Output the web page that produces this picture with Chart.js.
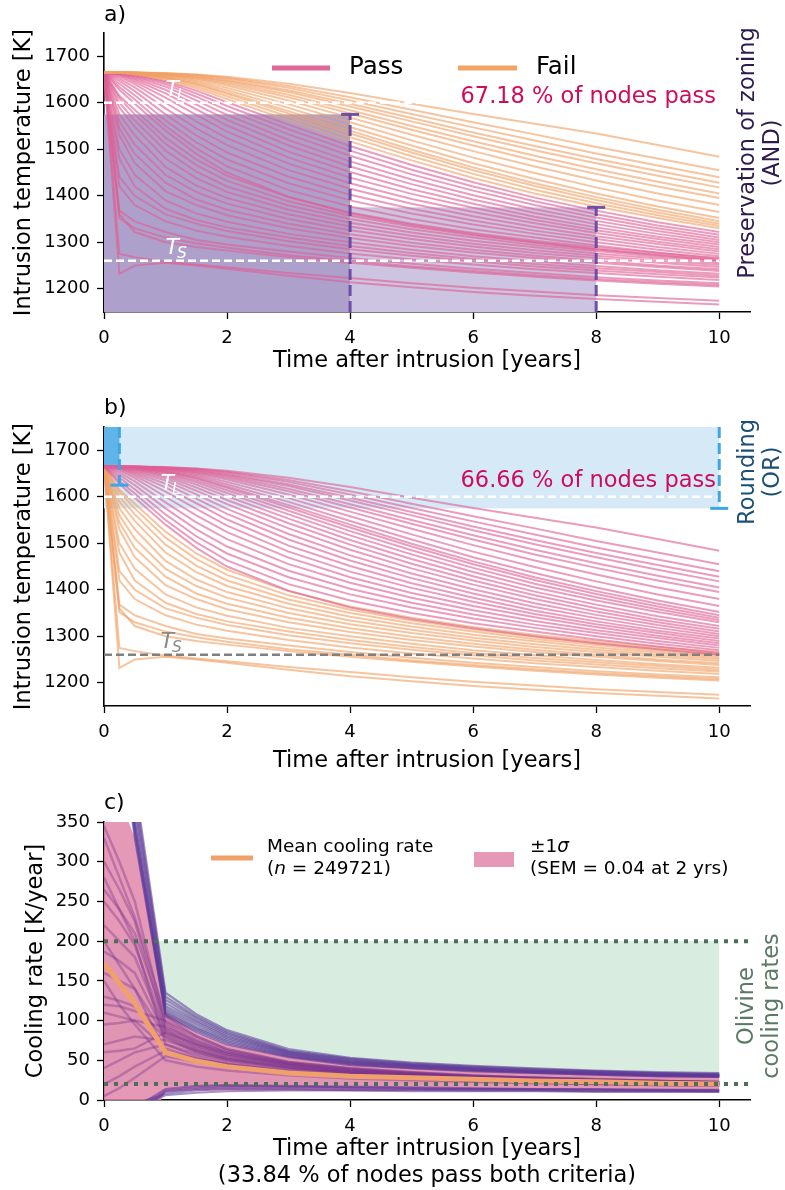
<!DOCTYPE html>
<html>
<head>
<meta charset="utf-8">
<script src="https://cdn.jsdelivr.net/npm/chart.js@4.4.1/dist/chart.umd.min.js"></script>
<style>
  body { margin: 0; background: #fff; }
  #wrap { position: relative; width: 785px; height: 1190px; }
  canvas { position: absolute; left: 0; }
</style>
</head>
<body>
<div id="wrap">
  <canvas id="panelA" width="785" height="385" style="top:0px"></canvas>
  <canvas id="panelB" width="785" height="400" style="top:385px"></canvas>
  <canvas id="panelC" width="785" height="405" style="top:785px"></canvas>
</div>
<script>
const FONT = '"DejaVu Sans", sans-serif';

// sample times shared by every node series (years after intrusion)
const years = [0, 0.25, 0.5, 1, 1.5, 2, 3, 4, 5, 6, 7, 8, 9, 10];
const xTicks = [0, 2, 4, 6, 8, 10];
const tempTicks = [1200, 1300, 1400, 1500, 1600, 1700];
const rateTicks = [0, 50, 100, 150, 200, 250, 300, 350];

// slow nodes that stay hot too long for zoning (fail a, pass b)
const tempSlowHot = [
  [1665, 1665, 1665, 1664, 1661, 1656, 1641, 1621, 1598, 1576, 1555, 1534, 1509, 1484],
  [1665, 1665, 1665, 1663, 1660, 1654, 1636, 1612, 1585, 1558, 1532, 1505, 1480, 1455],
  [1665, 1665, 1665, 1663, 1659, 1652, 1632, 1605, 1576, 1547, 1519, 1491, 1465, 1440],
  [1665, 1665, 1665, 1662, 1657, 1649, 1627, 1598, 1567, 1536, 1507, 1479, 1453, 1428],
  [1665, 1665, 1665, 1662, 1656, 1647, 1623, 1592, 1560, 1528, 1498, 1470, 1443, 1418],
  [1665, 1665, 1664, 1661, 1654, 1644, 1617, 1584, 1550, 1517, 1486, 1457, 1430, 1405],
  [1665, 1665, 1664, 1660, 1652, 1641, 1612, 1577, 1542, 1508, 1476, 1447, 1420, 1395],
  [1665, 1665, 1664, 1659, 1650, 1637, 1605, 1568, 1531, 1496, 1463, 1433, 1405, 1380],
  [1665, 1665, 1664, 1658, 1647, 1632, 1597, 1558, 1519, 1482, 1449, 1418, 1390, 1365],
  [1665, 1665, 1663, 1656, 1644, 1627, 1589, 1548, 1508, 1470, 1436, 1405, 1377, 1352],
  [1665, 1665, 1663, 1655, 1641, 1622, 1582, 1540, 1499, 1461, 1427, 1397, 1370, 1345],
  [1665, 1665, 1663, 1654, 1639, 1619, 1577, 1534, 1493, 1455, 1421, 1391, 1364, 1340],
  [1665, 1665, 1662, 1652, 1635, 1614, 1570, 1526, 1485, 1447, 1413, 1384, 1358, 1335],
  [1665, 1664, 1661, 1650, 1631, 1608, 1562, 1517, 1476, 1438, 1405, 1377, 1352, 1330]
];
// slow nodes that pass both criteria
const tempSlowCool = [
  [1665, 1664, 1660, 1647, 1626, 1601, 1553, 1507, 1466, 1429, 1396, 1368, 1343, 1322],
  [1665, 1664, 1659, 1644, 1620, 1593, 1543, 1497, 1456, 1420, 1388, 1360, 1336, 1316],
  [1665, 1663, 1657, 1640, 1613, 1584, 1532, 1486, 1446, 1411, 1380, 1353, 1330, 1310],
  [1665, 1663, 1655, 1635, 1605, 1574, 1520, 1474, 1435, 1401, 1371, 1346, 1324, 1305],
  [1665, 1662, 1652, 1628, 1596, 1563, 1508, 1463, 1425, 1392, 1363, 1339, 1318, 1300],
  [1665, 1661, 1649, 1620, 1586, 1551, 1495, 1451, 1414, 1383, 1355, 1332, 1312, 1295],
  [1665, 1659, 1645, 1611, 1574, 1538, 1482, 1439, 1404, 1374, 1348, 1326, 1307, 1290],
  [1665, 1656, 1640, 1600, 1560, 1524, 1469, 1427, 1393, 1365, 1341, 1320, 1301, 1285],
  [1665, 1652, 1633, 1588, 1545, 1509, 1455, 1415, 1383, 1356, 1333, 1313, 1296, 1280],
  [1665, 1647, 1625, 1575, 1530, 1493, 1441, 1402, 1372, 1347, 1325, 1307, 1290, 1275],
  [1665, 1641, 1616, 1562, 1515, 1478, 1427, 1390, 1362, 1338, 1318, 1300, 1284, 1270],
  [1665, 1634, 1607, 1550, 1502, 1463, 1412, 1377, 1350, 1328, 1310, 1293, 1278, 1264],
  [1665, 1628, 1598, 1540, 1490, 1450, 1398, 1362, 1337, 1317, 1300, 1285, 1272, 1260]
];
// fast-quenched nodes (pass a, fail rounding in b)
const tempFast = [
  [1665, 1232, 1250, 1256, 1250, 1243, 1228, 1214, 1203, 1193, 1185, 1178, 1172, 1166],
  [1665, 1275, 1268, 1258, 1252, 1246, 1234, 1223, 1212, 1202, 1194, 1186, 1180, 1174],
  [1665, 1360, 1322, 1300, 1290, 1282, 1268, 1256, 1245, 1235, 1226, 1218, 1211, 1205],
  [1665, 1352, 1330, 1310, 1298, 1288, 1272, 1260, 1248, 1238, 1229, 1221, 1214, 1208],
  [1665, 1368, 1345, 1322, 1305, 1295, 1280, 1266, 1254, 1243, 1234, 1225, 1218, 1212],
  [1665, 1420, 1380, 1345, 1325, 1312, 1292, 1276, 1263, 1252, 1242, 1234, 1226, 1219],
  [1665, 1440, 1400, 1360, 1340, 1324, 1302, 1285, 1271, 1259, 1248, 1239, 1231, 1224],
  [1665, 1480, 1420, 1372, 1348, 1332, 1310, 1292, 1277, 1264, 1253, 1244, 1236, 1228],
  [1665, 1500, 1445, 1390, 1362, 1344, 1318, 1300, 1284, 1270, 1259, 1249, 1240, 1232],
  [1665, 1530, 1470, 1410, 1380, 1358, 1330, 1309, 1292, 1278, 1266, 1256, 1247, 1238],
  [1665, 1545, 1490, 1428, 1392, 1370, 1340, 1317, 1299, 1284, 1271, 1260, 1250, 1242],
  [1665, 1560, 1510, 1445, 1408, 1383, 1350, 1326, 1307, 1291, 1277, 1266, 1256, 1247],
  [1665, 1575, 1530, 1462, 1422, 1395, 1360, 1334, 1314, 1297, 1283, 1271, 1260, 1251],
  [1665, 1590, 1548, 1480, 1438, 1408, 1370, 1342, 1321, 1303, 1289, 1276, 1265, 1255],
  [1665, 1600, 1562, 1497, 1452, 1420, 1379, 1350, 1328, 1310, 1294, 1281, 1269, 1259],
  [1665, 1610, 1575, 1512, 1466, 1432, 1388, 1357, 1334, 1315, 1299, 1285, 1273, 1262],
  [1665, 1615, 1585, 1525, 1478, 1443, 1397, 1364, 1340, 1320, 1303, 1289, 1277, 1266]
];

const liquidus = 1600;
const solidus = 1260;
const zoningLimits = [[4, 1575], [8, 1375]];      // [time, max temperature]
const roundingLimits = [[0.25, 1625], [10, 1575]]; // [time, min temperature]
const roundingHot = 1665;
const olivineRates = [20, 200];

// cooling rates of nodes passing both criteria [K/year]
const rateSteep = [
  [900, 650, 400, 135, 108, 88, 64, 53, 47, 43, 40, 37, 35, 34],
  [880, 630, 390, 130, 105, 86, 62, 52, 46, 42, 39, 36, 34, 33],
  [860, 610, 380, 126, 103, 84, 61, 51, 45, 41, 38, 36, 34, 32],
  [840, 590, 370, 122, 100, 82, 60, 50, 44, 40, 37, 35, 33, 32],
  [820, 570, 360, 118, 98, 80, 59, 49, 44, 40, 37, 34, 32, 31],
  [800, 550, 350, 115, 95, 78, 58, 48, 43, 39, 36, 34, 32, 31],
  [780, 530, 345, 112, 92, 76, 57, 47, 42, 38, 35, 33, 31, 30],
  [760, 510, 340, 110, 90, 74, 56, 46, 41, 38, 35, 33, 31, 30],
  [740, 490, 335, 108, 88, 72, 55, 45, 40, 37, 34, 32, 30, 29],
  [720, 470, 330, 106, 86, 70, 54, 44, 40, 36, 34, 32, 30, 29]
];
const rateMid = [
  [345, 300, 250, 95, 72, 60, 46, 38, 34, 30, 28, 26, 24, 23],
  [330, 280, 230, 105, 80, 64, 48, 40, 35, 31, 28, 26, 24, 23],
  [300, 265, 225, 90, 70, 58, 45, 37, 33, 30, 27, 25, 24, 22],
  [265, 240, 210, 98, 76, 62, 47, 39, 34, 30, 28, 25, 24, 22],
  [250, 225, 195, 88, 68, 56, 44, 36, 32, 29, 27, 25, 23, 22],
  [220, 200, 180, 85, 66, 55, 43, 36, 32, 29, 26, 24, 23, 21],
  [187, 175, 160, 82, 64, 53, 42, 35, 31, 28, 26, 24, 22, 21],
  [160, 150, 140, 80, 62, 52, 41, 34, 31, 28, 25, 23, 22, 20],
  [130, 125, 118, 78, 60, 50, 40, 34, 30, 27, 25, 23, 22, 20],
  [120, 118, 112, 100, 80, 64, 48, 40, 35, 31, 28, 26, 24, 22],
  [110, 105, 100, 65, 52, 45, 36, 31, 28, 25, 23, 22, 20, 19],
  [95, 97, 100, 92, 74, 60, 46, 38, 33, 30, 27, 25, 23, 22],
  [70, 75, 80, 75, 62, 52, 41, 34, 30, 27, 25, 23, 22, 20],
  [60, 62, 65, 85, 70, 58, 44, 36, 32, 29, 26, 24, 23, 21],
  [40, 50, 60, 70, 58, 49, 39, 33, 29, 26, 24, 22, 21, 19],
  [20, 30, 42, 62, 52, 45, 36, 31, 27, 25, 23, 21, 20, 19],
  [5, 15, 28, 55, 48, 42, 34, 29, 26, 24, 22, 20, 19, 18],
  [280, 240, 200, 70, 55, 46, 37, 31, 28, 26, 24, 22, 21, 20],
  [200, 170, 140, 60, 50, 43, 35, 30, 27, 25, 23, 21, 20, 19],
  [150, 120, 95, 50, 42, 37, 31, 27, 25, 23, 21, 20, 19, 18]
];
const rateLow = [
  [-200, -120, -15, 12, 16, 18, 17, 16, 15, 14, 14, 13, 13, 12],
  [-180, -100, -20, 10, 14, 16, 16, 15, 14, 14, 13, 13, 12, 12],
  [-150, -80, -10, 14, 18, 19, 18, 17, 16, 15, 14, 14, 13, 13],
  [-120, -60, -5, 8, 12, 14, 14, 13, 13, 12, 12, 11, 11, 11],
  [-100, -50, -8, 6, 9, 11, 12, 12, 11, 11, 11, 10, 10, 10]
];
const rateMean = [172, 147, 122, 60, 49, 42, 34, 30, 28, 26, 24, 23, 21, 20];
const rateSigmaHi = [420, 380, 330, 110, 85, 70, 55, 48, 44, 40, 37, 35, 33, 31];
const rateSigmaLo = [-80, -70, -60, 10, 12, 12, 12, 11, 11, 11, 11, 10, 10, 9];

const PINK = 'rgba(222, 95, 148, 0.62)';
const ORANGE = 'rgba(241, 160, 100, 0.62)';
const PURPLE = 'rgba(92, 56, 152, 0.55)';
const PURPLE_SOFT = 'rgba(120, 50, 140, 0.38)';

Chart.defaults.font.family = FONT;
Chart.defaults.color = '#000';

const pts = row => row.map((v, i) => ({ x: years[i], y: v }));

function series(rows, color, width) {
  return rows.map(row => ({
    data: pts(row), borderColor: color, borderWidth: width,
    pointRadius: 0, fill: false, tension: 0
  }));
}

function axes(xH, yW, yMin, yMax, yTicks, yTitle, yTitlePad, xTitle, xTitlePad) {
  return {
    x: {
      type: 'linear', min: 0, max: 10.5,
      afterBuildTicks: ax => { ax.ticks = xTicks.map(v => ({ value: v })); },
      afterFit: ax => { ax.height = xH; },
      grid: { drawOnChartArea: false, color: '#000', tickLength: 7, tickWidth: 1.3 },
      border: { color: '#000', width: 1.6 },
      ticks: { autoSkip: false, maxRotation: 0, padding: 9, font: { size: 18 }, callback: v => String(v) },
      title: { display: true, text: xTitle, font: { size: 22.5, lineHeight: 1.2 }, padding: { bottom: xTitlePad } }
    },
    y: {
      min: yMin, max: yMax,
      afterBuildTicks: ax => { ax.ticks = yTicks.map(v => ({ value: v })); },
      afterFit: ax => { ax.width = yW; },
      grid: { drawOnChartArea: false, color: '#000', tickLength: 7, tickWidth: 1.3 },
      border: { color: '#000', width: 1.6 },
      ticks: { autoSkip: false, padding: 7, font: { size: 18 }, callback: v => String(v) },
      title: { display: true, text: yTitle, font: { size: 22.5, lineHeight: 1.2 }, padding: { top: yTitlePad } }
    }
  };
}

function baseOptions(padTop, scales) {
  return {
    responsive: false, animation: false, events: [],
    layout: { padding: { top: padTop, right: 35, left: 0, bottom: 0 } },
    plugins: { legend: { display: false }, tooltip: { enabled: false } },
    scales
  };
}

function box(chart, t0, t1, v0, v1, color) {
  const { ctx, scales: { x, y } } = chart;
  ctx.save();
  ctx.fillStyle = color;
  const px0 = x.getPixelForValue(t0), px1 = x.getPixelForValue(t1);
  const py0 = y.getPixelForValue(v1), py1 = y.getPixelForValue(v0);
  ctx.fillRect(px0, py0, px1 - px0, py1 - py0);
  ctx.restore();
}

function level(chart, v, t0, t1, color, width, dash) {
  const { ctx, scales: { x, y } } = chart;
  ctx.save();
  ctx.strokeStyle = color;
  ctx.lineWidth = width;
  ctx.setLineDash(dash);
  ctx.beginPath();
  ctx.moveTo(x.getPixelForValue(t0), y.getPixelForValue(v));
  ctx.lineTo(x.getPixelForValue(t1), y.getPixelForValue(v));
  ctx.stroke();
  ctx.restore();
}

function errorBar(chart, t, from, to, color) {
  const { ctx, scales: { x, y } } = chart;
  const px = x.getPixelForValue(t);
  ctx.save();
  ctx.strokeStyle = color;
  ctx.lineWidth = 3;
  ctx.setLineDash([11, 5]);
  ctx.beginPath();
  ctx.moveTo(px, y.getPixelForValue(from));
  ctx.lineTo(px, y.getPixelForValue(to));
  ctx.stroke();
  ctx.setLineDash([]);
  ctx.beginPath();
  ctx.moveTo(px - 9, y.getPixelForValue(to));
  ctx.lineTo(px + 9, y.getPixelForValue(to));
  ctx.stroke();
  ctx.restore();
}

function text(ctx, s, x, y, size, color, align, style) {
  ctx.save();
  ctx.font = (style || '') + ' ' + size + 'px ' + FONT;
  ctx.fillStyle = color;
  ctx.textAlign = align || 'left';
  ctx.textBaseline = 'middle';
  ctx.fillText(s, x, y);
  const w = ctx.measureText(s).width;
  ctx.restore();
  return w;
}

function tLabel(chart, sub, t, v, color) {
  const { ctx, scales: { x, y } } = chart;
  const px = x.getPixelForValue(t), py = y.getPixelForValue(v) - 7;
  ctx.save();
  ctx.fillStyle = color;
  ctx.textBaseline = 'alphabetic';
  ctx.font = 'italic 22px ' + FONT;
  ctx.fillText('T', px, py);
  const w = ctx.measureText('T').width;
  ctx.font = 'italic 15.5px ' + FONT;
  ctx.fillText(sub, px + w - 2, py + 4);
  ctx.restore();
}

function sideLabel(ctx, lines, x0, yc, color) {
  lines.forEach((s, i) => {
    ctx.save();
    ctx.translate(x0 + i * 25, yc);
    ctx.rotate(-Math.PI / 2);
    ctx.font = '22.5px ' + FONT;
    ctx.fillStyle = color;
    ctx.textAlign = 'center';
    ctx.textBaseline = 'middle';
    ctx.fillText(s, 0, 0);
    ctx.restore();
  });
}

function legendLine(ctx, x0, x1, y, color, width) {
  ctx.save();
  ctx.strokeStyle = color;
  ctx.lineWidth = width;
  ctx.beginPath();
  ctx.moveTo(x0, y);
  ctx.lineTo(x1, y);
  ctx.stroke();
  ctx.restore();
}

// ---------- a) preservation of zoning ----------
const zoningDeco = {
  id: 'zoningDeco',
  beforeDatasetsDraw(chart) {
    const yMin = chart.scales.y.min;
    box(chart, 0, zoningLimits[0][0], yMin, zoningLimits[0][1], '#ada1cc');
    box(chart, zoningLimits[0][0], zoningLimits[1][0], yMin, zoningLimits[1][1], '#ccc4e0');
  },
  afterDatasetsDraw(chart) {
    level(chart, liquidus, 0, 10, '#fff', 2.5, [8, 4]);
    level(chart, solidus, 0, 10, '#fff', 2.5, [8, 4]);
    zoningLimits.forEach(([t, v]) => errorBar(chart, t, chart.scales.y.min, v, 'rgba(100, 66, 160, 0.9)'));
    tLabel(chart, 'L', 1.0, liquidus, '#fff');
    tLabel(chart, 'S', 1.0, solidus, '#fff');
  },
  afterDraw(chart) {
    const ctx = chart.ctx;
    text(ctx, 'a)', 104, 15, 22, '#000');
    legendLine(ctx, 272, 330, 68, 'rgb(224, 104, 152)', 5);
    text(ctx, 'Pass', 349, 68, 24.5, '#000');
    legendLine(ctx, 458, 517, 68, 'rgb(241, 163, 104)', 5);
    text(ctx, 'Fail', 536, 68, 24.5, '#000');
    text(ctx, '67.18 % of nodes pass', 716, 97, 22.5, '#cf0b5c', 'right');
    sideLabel(ctx, ['Preservation of zoning', '(AND)'], 748, 153, '#2d1b4e');
  }
};

new Chart(document.getElementById('panelA'), {
  type: 'line',
  data: {
    datasets: [
      ...series(tempSlowHot, ORANGE, 2),
      ...series(tempSlowCool, PINK, 2),
      ...series(tempFast, PINK, 2)
    ]
  },
  options: baseOptions(33, axes(73, 104, 1150, 1750, tempTicks, 'Intrusion temperature [K]', 10.5,
    'Time after intrusion [years]', 10)),
  plugins: [zoningDeco]
});

// ---------- b) rounding ----------
const roundingDeco = {
  id: 'roundingDeco',
  beforeDatasetsDraw(chart) {
    const yMax = chart.scales.y.max;
    box(chart, 0, 10, roundingLimits[1][1], yMax, '#d5e9f6');
    box(chart, 0, roundingLimits[0][0], roundingHot, yMax, '#5fb4e8');
  },
  afterDatasetsDraw(chart) {
    level(chart, liquidus, 0, 10, '#fff', 2.5, [8, 4]);
    level(chart, solidus, 0, 10, '#808080', 2.5, [8, 4]);
    roundingLimits.forEach(([t, v]) => errorBar(chart, t, chart.scales.y.max, v, '#3ea6e6'));
    tLabel(chart, 'L', 0.92, liquidus, '#fff');
    tLabel(chart, 'S', 0.92, solidus, '#8a8a8a');
  },
  afterDraw(chart) {
    const ctx = chart.ctx;
    text(ctx, 'b)', 104, 23, 22, '#000');
    text(ctx, '66.66 % of nodes pass', 716, 96, 22.5, '#cf0b5c', 'right');
    sideLabel(ctx, ['Rounding', '(OR)'], 748, 87, '#1b4f73');
  }
};

new Chart(document.getElementById('panelB'), {
  type: 'line',
  data: {
    datasets: [
      ...series(tempSlowHot, PINK, 2),
      ...series(tempSlowCool, PINK, 2),
      ...series(tempFast, ORANGE, 2)
    ]
  },
  options: baseOptions(42, axes(79, 104, 1150, 1750, tempTicks, 'Intrusion temperature [K]', 10.5,
    'Time after intrusion [years]', 10)),
  plugins: [roundingDeco]
});

// ---------- c) cooling rates ----------
const coolingDeco = {
  id: 'coolingDeco',
  beforeDatasetsDraw(chart) {
    box(chart, 0, 10, olivineRates[0], olivineRates[1], '#d8ede0');
  },
  afterDatasetsDraw(chart) {
    olivineRates.forEach(v => level(chart, v, 0, 10.5, '#4f6e5a', 4, [4, 6]));
  },
  afterDraw(chart) {
    const ctx = chart.ctx;
    text(ctx, 'c)', 104, 18, 22, '#000');
    legendLine(ctx, 211, 253, 73, '#f0a06a', 5);
    text(ctx, 'Mean cooling rate', 267, 62, 18.5, '#000');
    let x = 267;
    x += text(ctx, '(', x, 84, 18.5, '#000');
    x += text(ctx, 'n', x, 84, 18.5, '#000', 'left', 'italic');
    text(ctx, ' = 249721)', x, 84, 18.5, '#000');
    ctx.fillStyle = 'rgba(226, 134, 170, 0.85)';
    ctx.fillRect(474, 67, 40, 15);
    x = 530;
    x += text(ctx, '\u00b11', x, 62, 18.5, '#000');
    text(ctx, '\u03c3', x, 62, 18.5, '#000', 'left', 'italic');
    text(ctx, '(SEM = 0.04 at 2 yrs)', 530, 84, 18.5, '#000');
    sideLabel(ctx, ['Olivine', 'cooling rates'], 747, 221, '#5b7a66');
  }
};

new Chart(document.getElementById('panelC'), {
  type: 'line',
  data: {
    datasets: [
      { data: pts(rateMean), borderColor: '#f0a06a', borderWidth: 5, pointRadius: 0, fill: false },
      ...series(rateSteep, PURPLE, 2.2),
      ...series(rateMid, PURPLE_SOFT, 2.5),
      ...series(rateLow, PURPLE, 2),
      { data: pts(rateSigmaHi), borderColor: 'transparent', borderWidth: 0, pointRadius: 0,
        backgroundColor: 'rgba(226, 134, 170, 0.85)', fill: '+1' },
      { data: pts(rateSigmaLo), borderColor: 'transparent', borderWidth: 0, pointRadius: 0, fill: false }
    ]
  },
  options: baseOptions(37, axes(90, 104, 0, 350, rateTicks, 'Cooling rate [K/year]', 22.5,
    ['Time after intrusion [years]', '(33.84 % of nodes pass both criteria)'], 0.5)),
  plugins: [coolingDeco]
});
</script>
</body>
</html>
